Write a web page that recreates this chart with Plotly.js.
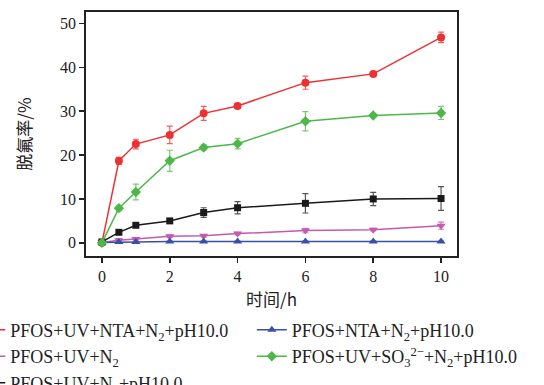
<!DOCTYPE html>
<html>
<head>
<meta charset="utf-8">
<script src="https://cdn.plot.ly/plotly-3.0.1.min.js"></script>
<style>html,body{margin:0;padding:0;background:#fff;}#chart{width:544px;height:385px;}</style>
</head>
<body>
<div id="chart"></div>
<script>
const timeH = [0, 0.5, 1, 2, 3, 4, 6, 8, 10];

const nameRed = "PFOS+UV+NTA+N<sub>2</sub>+pH10.0";
const nameMagenta = "PFOS+UV+N<sub>2</sub>";
const nameBlack = "PFOS+UV+N<sub>2</sub>+pH10.0";
const nameBlue = "PFOS+NTA+N<sub>2</sub>+pH10.0";
const nameGreen = "PFOS+UV+SO<sub>3</sub><sup>2−</sup>+N<sub>2</sub>+pH10.0";

const redY = [0, 18.7, 22.5, 24.6, 29.5, 31.2, 36.5, 38.5, 46.8];
const redErr = [0.2, 0.8, 1.1, 2.0, 1.6, 0.5, 1.5, 0.4, 1.2];

const greenY = [0, 7.9, 11.6, 18.7, 21.7, 22.6, 27.7, 29.0, 29.6];
const greenErr = [0.2, 0.6, 1.8, 2.4, 0.6, 1.2, 2.2, 0.4, 1.5];

const blackY = [0.2, 2.4, 4.0, 5.0, 6.9, 8.0, 9.0, 10.0, 10.1];
const blackErr = [0.2, 0.3, 0.3, 0.3, 1.1, 1.4, 2.2, 1.5, 2.7];

const magentaY = [0.1, 0.6, 0.9, 1.5, 1.6, 2.1, 2.8, 3.0, 3.9];
const magentaErr = [0.1, 0.3, 0.3, 0.3, 0.3, 0.3, 0.5, 0.3, 0.8];

const blueY = [0.1, 0.2, 0.2, 0.3, 0.3, 0.3, 0.3, 0.3, 0.3];
const blueErr = [0.1, 0.1, 0.1, 0.1, 0.1, 0.1, 0.1, 0.1, 0.1];

function tr(name, y, err, color, errColor, symbol, size, legend) {
  return {
    type: 'scatter', mode: 'lines+markers', name: name, x: timeH, y: y,
    line: {color: color, width: 1.5},
    marker: {color: color, symbol: symbol, size: size},
    error_y: {type: 'data', array: err, visible: true, color: errColor, thickness: 1.2, width: 3},
    legend: legend
  };
}

const data = [
  tr(nameRed, redY, redErr, '#ee3030', '#f06060', 'circle', 8, 'legend'),
  tr(nameMagenta, magentaY, magentaErr, '#c35aad', '#cf7cbf', 'triangle-down', 8, 'legend'),
  tr(nameBlack, blackY, blackErr, '#1a1a1a', '#555555', 'square', 7, 'legend'),
  tr(nameBlue, blueY, blueErr, '#3a4fa8', '#6070b8', 'triangle-up', 8, 'legend2'),
  tr(nameGreen, greenY, greenErr, '#4cb848', '#7cc878', 'diamond', 8, 'legend2')
];

const fontFam = '"Liberation Serif", "Times New Roman", "Noto Sans CJK SC", serif';
const cjkFam = '"Noto Sans CJK SC", "Liberation Serif", sans-serif';

const layout = {
  width: 544, height: 385,
  margin: {l: 86, r: 87, t: 12, b: 129, autoexpand: false},
  paper_bgcolor: '#fff', plot_bgcolor: '#fff',
  font: {family: fontFam, size: 16, color: '#222'},
  showlegend: true,
  xaxis: {
    range: [-0.47, 10.47], tickvals: [0, 2, 4, 6, 8, 10],
    ticks: 'outside', ticklen: 5, tickwidth: 1.5, tickcolor: '#222',
    showline: true, linecolor: '#222', linewidth: 1.8, mirror: true,
    showgrid: false, zeroline: false, automargin: false,
    tickfont: {family: fontFam, size: 16},
    title: {text: '时间/h', font: {family: cjkFam, size: 17}, standoff: 10}
  },
  yaxis: {
    range: [-3, 52.6], tickvals: [0, 10, 20, 30, 40, 50],
    ticks: 'outside', ticklen: 5, tickwidth: 1.5, tickcolor: '#222',
    showline: true, linecolor: '#222', linewidth: 1.8, mirror: true,
    showgrid: false, zeroline: false, automargin: false,
    tickfont: {family: fontFam, size: 16},
    title: {text: '脱氟率/%', font: {family: cjkFam, size: 17}, standoff: 24}
  },
  legend: {
    x: -0.312, xanchor: 'left', y: -0.228, yanchor: 'top', orientation: 'v',
    bgcolor: 'rgba(0,0,0,0)', borderwidth: 0, tracegroupgap: 0,
    font: {family: fontFam, size: 18, color: '#222'}
  },
  legend2: {
    x: 0.447, xanchor: 'left', y: -0.228, yanchor: 'top', orientation: 'v',
    bgcolor: 'rgba(0,0,0,0)', borderwidth: 0, tracegroupgap: 0,
    font: {family: fontFam, size: 18, color: '#222'}
  }
};

Plotly.newPlot('chart', data, layout, {displayModeBar: false, staticPlot: true});
</script>
</body>
</html>
